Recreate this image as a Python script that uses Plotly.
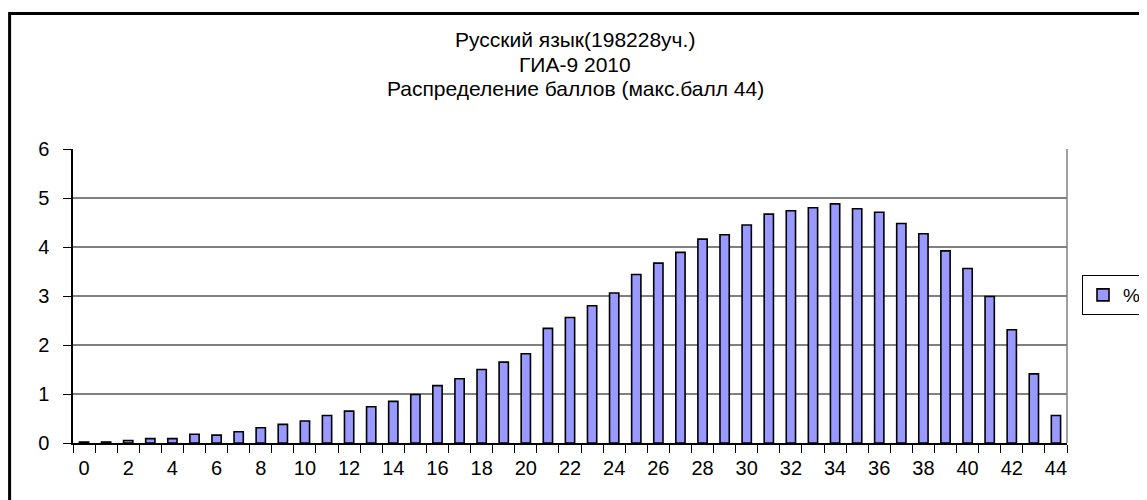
import plotly.graph_objects as go

# ---- data ----
scores = [0, 1, 2, 3, 4, 5, 6, 7, 8, 9, 10, 11, 12, 13, 14, 15, 16, 17, 18, 19, 20, 21,
          22, 23, 24, 25, 26, 27, 28, 29, 30, 31, 32, 33, 34, 35, 36, 37, 38, 39, 40,
          41, 42, 43, 44]
percent = [0.02, 0.02, 0.05, 0.09, 0.09, 0.18, 0.16, 0.23, 0.31, 0.38, 0.45, 0.56,
           0.65, 0.74, 0.85, 0.99, 1.17, 1.31, 1.50, 1.65, 1.82, 2.34, 2.56, 2.80,
           3.06, 3.44, 3.67, 3.89, 4.16, 4.25, 4.45, 4.67, 4.74, 4.80, 4.88, 4.78,
           4.71, 4.48, 4.27, 3.92, 3.56, 2.99, 2.31, 1.41, 0.56]
x_tick_vals = [0, 2, 4, 6, 8, 10, 12, 14, 16, 18, 20, 22, 24, 26, 28, 30, 32, 34, 36,
               38, 40, 42, 44]
x_tick_text = [str(v) for v in x_tick_vals]
y_tick_vals = [0, 1, 2, 3, 4, 5, 6]
series_name = "%"
title_lines = ["Русский язык(198228уч.)", "ГИА-9 2010", "Распределение баллов (макс.балл 44)"]

FONT = "Liberation Sans, Arial, sans-serif"
OFF = 8  # default page body margin
W, H = 1139, 492
# target screen pixels: plot area x 73..1067, y 149..443
L = 73 - OFF
T = 149 - OFF
R = W - (1067 - OFF)
B = H - (443 - OFF)
pw, ph = W - L - R, H - T - B


def px_x(x):
    return (x - OFF - L) / pw


def px_y(y):
    return (H - B - (y - OFF)) / ph


fig = go.Figure()
fig.add_trace(go.Bar(
    x=scores, y=percent, name=series_name,
    marker=dict(color="#9999FF", line=dict(color="black", width=1.6)),
    width=0.42, showlegend=True,
))

fig.update_layout(
    width=W, height=H,
    margin=dict(l=L, r=R, t=T, b=B, autoexpand=False),
    paper_bgcolor="white", plot_bgcolor="white",
    font=dict(family=FONT, color="black", size=19),
    showlegend=True,
    legend=dict(x=px_x(1082), xanchor="left", y=px_y(295), yanchor="middle",
                bordercolor="black", borderwidth=1, bgcolor="white",
                font=dict(size=19, family=FONT), itemwidth=30),
    xaxis=dict(range=[-0.5, 44.5], tickmode="array", tickvals=x_tick_vals,
               ticktext=x_tick_text, ticks="", showgrid=False, zeroline=False,
               showline=True, linecolor="black", linewidth=1.5,
               tickfont=dict(size=20, family=FONT), ticklabelstandoff=6,
               minor=dict(tickmode="linear", tick0=-0.5, dtick=1, ticks="outside",
                          ticklen=8, tickcolor="black", tickwidth=1.2, showgrid=False)),
    yaxis=dict(range=[0, 6], tickmode="array", tickvals=y_tick_vals, ticks="outside",
               ticklen=8, tickcolor="black", tickwidth=1.2, showgrid=True,
               gridcolor="#808080", gridwidth=1.5, zeroline=False, showline=True,
               linecolor="black", linewidth=1.5, tickfont=dict(size=20, family=FONT),
               ticklabelstandoff=10),
    bargap=0.55,
)

# title lines
for txt, yy in zip(title_lines, [40, 64, 88]):
    fig.add_annotation(text=txt, x=px_x(575), y=px_y(yy), xref="paper", yref="paper",
                       xanchor="center", yanchor="middle", showarrow=False,
                       font=dict(size=21, family=FONT, color="black"))

# right plot-area border (grey)
fig.add_shape(type="line", xref="paper", yref="paper", x0=1, x1=1, y0=0, y1=1,
              line=dict(color="#808080", width=1.5))
# outer chart border
fig.add_shape(type="rect", xref="paper", yref="paper",
              x0=px_x(9.6), x1=px_x(1165), y0=px_y(520), y1=px_y(13.5),
              line=dict(color="black", width=3), fillcolor="rgba(0,0,0,0)")

fig.write_html("out.html")
